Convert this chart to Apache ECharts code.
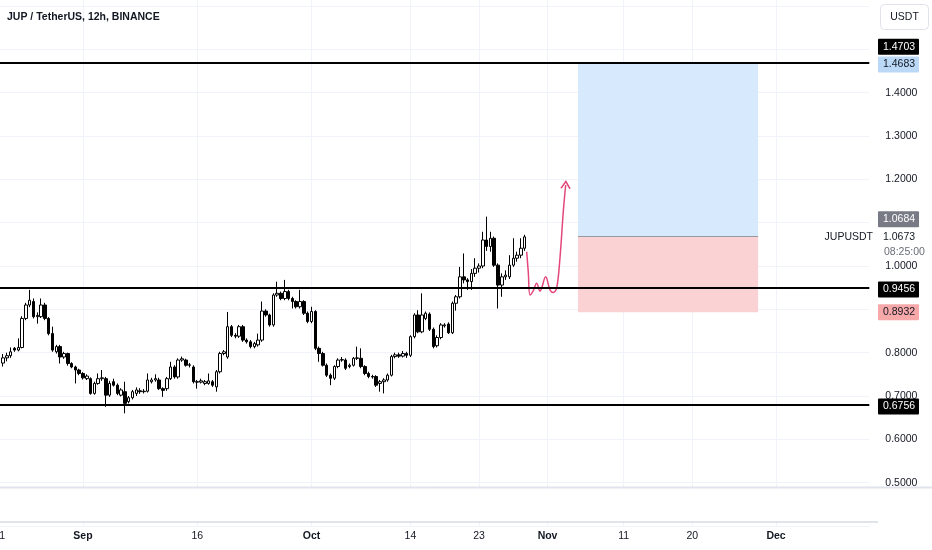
<!DOCTYPE html>
<html><head><meta charset="utf-8">
<script src="https://cdn.jsdelivr.net/npm/echarts@6/dist/echarts.min.js"></script>
<style>html,body{margin:0;padding:0;background:#fff}#c{width:932px;height:550px}</style>
</head><body><div id="c"></div>
<script>
// ---- data (12h candles, JUP/USDT) ----
const opens = [
0.776,0.788,0.793,0.810,0.806,0.812,0.879,0.910,0.918,0.883,
0.883,0.910,0.879,0.844,0.802,0.814,0.790,0.798,0.775,0.767,
0.760,0.752,0.740,0.740,0.706,0.729,0.740,0.740,0.702,0.733,
0.725,0.702,0.710,0.687,
0.696,0.706,0.712,0.710,0.711,0.733,0.737,0.737,0.717,0.717,
0.740,0.767,0.744,0.783,0.783,0.771,0.767,0.733,0.732,0.729,
0.729,0.733,0.721,0.756,0.798,0.790,0.860,0.840,0.838,0.860,
0.829,0.825,0.814,0.818,0.829,0.896,0.887,0.864,0.933,0.937,
0.925,0.941,0.925,0.918,0.906,0.918,0.891,0.872,0.895,0.810,
0.798,0.771,0.748,0.741,0.768,0.783,0.783,0.768,0.771,0.787,
0.787,0.768,0.752,0.745,0.745,0.729,0.733,0.737,0.748,0.791,
0.795,0.792,0.798,0.794,0.837,0.887,0.848,0.879,0.889,0.854,
0.816,0.835,0.862,0.866,0.846,0.914,0.929,0.975,0.968,0.964,
0.983,0.995,1.000,1.060,1.045,1.064,1.002,0.956,0.975,0.975,
1.002,1.018,1.025,1.041];
const closes = [
0.788,0.793,0.802,0.806,0.812,0.879,0.910,0.921,0.883,0.886,
0.910,0.879,0.844,0.806,0.814,0.790,0.798,0.775,0.767,0.760,
0.752,0.742,0.746,0.706,0.729,0.740,0.742,0.702,0.729,0.725,
0.706,0.714,0.683,0.696,
0.710,0.714,0.710,0.711,0.737,0.737,0.740,0.717,0.713,0.740,
0.767,0.744,0.783,0.786,0.771,0.772,0.733,0.732,0.735,0.733,
0.735,0.725,0.756,0.798,0.802,0.860,0.840,0.838,0.860,0.829,
0.825,0.814,0.821,0.829,0.896,0.887,0.864,0.933,0.937,0.925,
0.941,0.925,0.918,0.906,0.918,0.891,0.872,0.895,0.810,0.798,
0.771,0.748,0.741,0.768,0.783,0.784,0.764,0.771,0.787,0.788,
0.768,0.752,0.745,0.744,0.725,0.733,0.737,0.748,0.791,0.795,
0.792,0.798,0.794,0.837,0.887,0.848,0.887,0.891,0.854,0.814,
0.835,0.864,0.864,0.846,0.914,0.929,0.975,0.968,0.964,0.983,
0.995,1.000,1.060,1.045,1.064,1.002,0.956,0.975,0.979,1.002,
1.018,1.025,1.041,1.0673];
const highs = [
0.797,0.800,0.812,0.813,0.833,0.884,0.915,0.945,0.925,0.893,
0.925,0.915,0.882,0.860,0.818,0.818,0.802,0.800,0.778,0.770,
0.763,0.755,0.750,0.743,0.733,0.752,0.760,0.744,0.735,0.740,
0.729,0.718,0.733,0.700,
0.714,0.720,0.718,0.716,0.752,0.742,0.750,0.742,0.720,0.744,
0.779,0.771,0.787,0.791,0.786,0.776,0.771,0.737,0.740,0.737,
0.752,0.737,0.760,0.802,0.806,0.894,0.864,0.845,0.864,0.864,
0.833,0.829,0.825,0.844,0.918,0.900,0.890,0.937,0.964,0.941,
0.968,0.945,0.929,0.921,0.945,0.921,0.895,0.906,0.898,0.814,
0.802,0.775,0.752,0.771,0.787,0.790,0.787,0.775,0.790,0.814,
0.810,0.771,0.756,0.749,0.748,0.737,0.741,0.752,0.795,0.800,
0.800,0.804,0.802,0.840,0.891,0.898,0.937,0.895,0.893,0.858,
0.840,0.868,0.868,0.870,0.918,0.933,0.998,1.029,0.972,0.993,
1.018,1.006,1.079,1.114,1.079,1.068,1.006,0.983,0.990,1.025,
1.064,1.033,1.064,1.072];
const lows = [
0.768,0.780,0.788,0.802,0.803,0.810,0.875,0.905,0.879,0.867,
0.880,0.875,0.840,0.802,0.798,0.775,0.786,0.770,0.764,0.729,
0.748,0.738,0.737,0.703,0.703,0.726,0.735,0.675,0.698,0.722,
0.702,0.699,0.660,0.683,
0.692,0.700,0.705,0.706,0.708,0.729,0.733,0.714,0.698,0.712,
0.737,0.740,0.740,0.779,0.768,0.766,0.729,0.717,0.729,0.725,
0.726,0.721,0.710,0.752,0.794,0.786,0.836,0.833,0.834,0.825,
0.821,0.810,0.810,0.814,0.825,0.883,0.860,0.860,0.929,0.921,
0.921,0.921,0.902,0.902,0.902,0.887,0.868,0.868,0.806,0.779,
0.768,0.744,0.725,0.737,0.764,0.779,0.760,0.764,0.768,0.783,
0.764,0.748,0.741,0.740,0.721,0.710,0.706,0.733,0.745,0.787,
0.788,0.789,0.788,0.790,0.833,0.845,0.845,0.875,0.850,0.810,
0.812,0.831,0.858,0.843,0.843,0.897,0.925,0.960,0.945,0.945,
0.975,0.985,0.995,1.035,1.033,0.998,0.902,0.929,0.968,0.970,
0.998,1.010,1.018,1.035];

// horizontal support / resistance levels
const levelPrices = [1.4703, 0.9456, 0.6756];
// long position tool: target, entry, stop and its slot span
const positionPrices = [1.4683, 1.0684, 0.8932];
const positionSlots = [152.0, 199.3];
// projected path (slot index, price)
const pathSlots  = [138.52,138.95,139.39,140.20,141.14,142.01,143.51,144.64,145.50,146.40,147.26,148.13,148.76];
const pathPrices = [1.033, 0.985, 0.933, 0.942, 0.960, 0.942, 0.975, 0.945, 0.939, 0.949, 1.018, 1.125, 1.187];

// axis ticks
const xTickDates  = ['2024-08-21','2024-09-01','2024-09-16','2024-10-01','2024-10-14','2024-10-23','2024-11-01','2024-11-11','2024-11-20','2024-12-01'];
const xTickLabels = ['21','Sep','16','Oct','14','23','Nov','11','20','Dec'];
const xTickBold   = [false,true,false,true,false,false,true,false,false,true];
const yTickLabels = ['0.5000','0.6000','0.7000','0.8000','1.0000','1.2000','1.3000','1.4000'];

// right-axis price tags
const tagPrices = [1.4703, 1.4683, 1.0684, 1.0673, 0.9456, 0.8932, 0.6756];
const tagTexts  = ['1.4703','1.4683','1.0684','1.0673','0.9456','0.8932','0.6756'];

// ---- build ----
const FONT = "'Liberation Sans',Arial,sans-serif";
const FS = 10.5;
const N_SLOTS = 229;
const categories = [];
const t0 = Date.UTC(2024, 7, 21, 0, 0);
for (let k = 0; k < N_SLOTS; k++) {
  const d = new Date(t0 + k * 12 * 3600 * 1000);
  categories.push(d.toISOString().slice(0, 10) + (d.getUTCHours() ? ' 12:00' : ' 00:00'));
}
const firstSlot = 1;
const candleData = opens.map((o, i) => [i + firstSlot, o, closes[i], lows[i], highs[i]]);
const tickIdx = xTickDates.map(d => categories.indexOf(d + ' 00:00'));
const PINK = '#e4487a';
const pathData = pathSlots.map((s, i) => [s, pathPrices[i]]);
const lastP = pathData.pop();
pathData.push({value: lastP, symbol: 'path://M0,8 L5,0 L10,8', symbolSize: [9, 7], symbolRotate: -3,
  itemStyle: {color: 'none', borderColor: PINK, borderWidth: 1.5}});

const chart = echarts.init(document.getElementById('c'), null, {renderer: 'canvas'});
const option = {
  animation: false,
  backgroundColor: '#ffffff',
  title: {text: 'JUP / TetherUS, 12h, BINANCE', left: 7, top: 12, padding: 0,
    textStyle: {fontFamily: FONT, fontSize: 10.5, fontWeight: 'bold', color: '#131722'}},
  grid: {left: -2.68, right: 62.7, top: -37.31, bottom: 24, containLabel: false, outerBoundsMode: 'none'},
  xAxis: [{
    type: 'category', data: categories, boundaryGap: true,
    axisLine: {show: false}, axisTick: {show: false}, splitLine: {show: false},
    axisLabel: {
      interval: (index) => tickIdx.indexOf(index) >= 0,
      margin: 5, fontFamily: FONT, fontSize: FS, color: '#131722',
      formatter: (val, index) => {
        const j = tickIdx.indexOf(index);
        if (j < 0) return '';
        return xTickBold[j] ? '{b|' + xTickLabels[j] + '}' : xTickLabels[j];
      },
      rich: {b: {fontFamily: FONT, fontSize: FS, fontWeight: 'bold', color: '#131722'}}
    }
  }, {
    type: 'value', min: -0.5, max: N_SLOTS - 0.5, show: false
  }],
  yAxis: {
    type: 'value', position: 'right', min: 0.4, max: 1.7, interval: 0.1,
    axisLine: {show: false}, axisTick: {show: false},
    splitLine: {lineStyle: {color: '#f0f3fa', width: 1}},
    axisLabel: {margin: 16, fontFamily: FONT, fontSize: FS, color: '#131722',
      formatter: v => { const s = v.toFixed(4); return yTickLabels.indexOf(s) >= 0 ? s : ''; }}
  },
  series: [
    { // vertical grid lines at time ticks
      type: 'line', xAxisIndex: 1, data: [], z: 0, silent: true,
      markLine: {silent: true, z: 0, symbol: ['none', 'none'], label: {show: false},
        lineStyle: {color: '#f0f3fa', width: 1, type: 'solid'},
        data: tickIdx.map(v => ({xAxis: v}))}
    },
    {
      type: 'candlestick', xAxisIndex: 0, data: candleData, encode: {x: 0, y: [1, 2, 3, 4]},
      barWidth: 3, z: 3,
      itemStyle: {color: '#ffffff', color0: '#000000', borderColor: '#000000', borderColor0: '#000000', borderWidth: 1},
      markLine: {silent: true, z: 8, symbol: ['none', 'none'], label: {show: false},
        lineStyle: {color: '#000000', width: 2, type: 'solid'},
        data: levelPrices.map(v => ({yAxis: v}))}
    },
    {
      type: 'line', xAxisIndex: 1, data: pathData, smooth: 0.35, symbol: 'none', z: 6,
      lineStyle: {color: PINK, width: 1.5},
      markArea: {silent: true, z: 5, data: [
        [{xAxis: positionSlots[0], yAxis: positionPrices[0], itemStyle: {color: '#d7e9fc'}}, {xAxis: positionSlots[1], yAxis: positionPrices[1]}],
        [{xAxis: positionSlots[0], yAxis: positionPrices[1], itemStyle: {color: '#fad2d3'}}, {xAxis: positionSlots[1], yAxis: positionPrices[2]}]
      ]},
      markLine: {silent: true, z: 7, symbol: ['none', 'none'], label: {show: false},
        lineStyle: {color: '#9598a1', width: 1, type: 'solid'},
        data: [[{coord: [positionSlots[0], positionPrices[1]]}, {coord: [positionSlots[1], positionPrices[1]]}]]}
    }
  ]
};
chart.setOption(option);

// price tags on the right axis
const tagBg    = ['#000000', '#bbd9f7', '#787b86', null, '#000000', '#f7a9aa', '#000000'];
const tagFg    = ['#ffffff', '#131722', '#ffffff', '#131722', '#ffffff', '#131722', '#ffffff'];
const tagShift = [-15.5, 1.3, -17, 0.5, 0, 0, 0];
const gfx = [];
gfx.push({type: 'rect', z: 100, shape: {x: 0, y: 488.5, width: 932, height: 33}, style: {fill: '#ffffff'}});
gfx.push({type: 'line', z: 101, shape: {x1: 0, y1: 487.5, x2: 932, y2: 487.5}, style: {stroke: '#e0e3eb', lineWidth: 2}});
gfx.push({type: 'line', z: 101, shape: {x1: 0, y1: 522, x2: 878, y2: 522}, style: {stroke: '#e0e3eb', lineWidth: 2}});
tagPrices.forEach((p, i) => {
  const cy = chart.convertToPixel({yAxisIndex: 0}, p) + tagShift[i];
  if (tagBg[i]) gfx.push({type: 'rect', z: 102, shape: {x: 878, y: cy - 8, width: 41, height: 16, r: 1}, style: {fill: tagBg[i]}});
  gfx.push({type: 'text', z: 103, x: 883, y: cy, style: {text: tagTexts[i], fill: tagFg[i], font: FS + 'px ' + FONT, textVerticalAlign: 'middle', verticalAlign: 'middle'}});
});
const lastY = chart.convertToPixel({yAxisIndex: 0}, closes[closes.length - 1]) + 0.5;
gfx.push({type: 'text', z: 103, x: 873, y: lastY, style: {text: 'JUPUSDT', fill: '#131722', font: FS + 'px ' + FONT, align: 'right', textAlign: 'right', verticalAlign: 'middle', textVerticalAlign: 'middle'}});
gfx.push({type: 'text', z: 103, x: 884, y: lastY + 15, style: {text: '08:25:00', fill: '#6a6d78', font: FS + 'px ' + FONT, verticalAlign: 'middle', textVerticalAlign: 'middle'}});
gfx.push({type: 'rect', z: 102, shape: {x: 880.5, y: 4.5, width: 48, height: 25, r: 4}, style: {fill: '#ffffff', stroke: '#e0e3eb', lineWidth: 1}});
gfx.push({type: 'text', z: 103, x: 904.5, y: 17, style: {text: 'USDT', fill: '#131722', font: FS + 'px ' + FONT, align: 'center', textAlign: 'center', verticalAlign: 'middle', textVerticalAlign: 'middle'}});
chart.setOption({graphic: {elements: gfx}});
</script></body></html>
